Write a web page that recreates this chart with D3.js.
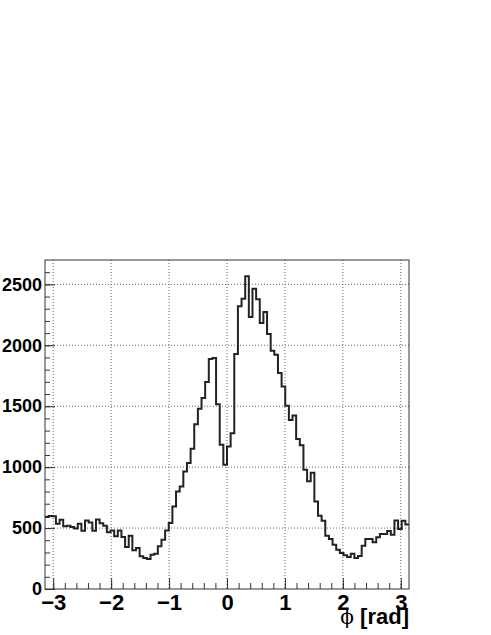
<!DOCTYPE html>
<html>
<head>
<meta charset="utf-8">
<script src="https://cdn.jsdelivr.net/npm/d3@7"></script>
<style>
  body { margin: 0; background: #fff; }
  svg { display: block; }
</style>
</head>
<body>
<div class="chart"></div>
<script>
var w = 491,
    h = 635;

// phi histogram, 100 bins from -pi to pi
var counts = [
  590, 600, 598, 535, 568, 514, 519, 508, 497, 535,
  478, 563, 546, 478, 570, 540, 520, 465, 481, 432,
  481, 426, 344, 437, 317, 336, 268, 254, 246, 281,
  290, 350, 404, 481, 541, 678, 801, 842, 964, 1035,
  1150, 1353, 1479, 1567, 1698, 1887, 1895, 1517, 1183, 1019,
  1170, 1279, 1928, 2320, 2382, 2566, 2232, 2464, 2377, 2183,
  2273, 2092, 1955, 1922, 1772, 1662, 1504, 1386, 1424, 1230,
  1180, 978, 885, 955, 719, 601, 560, 437, 410, 363,
  322, 295, 276, 262, 290, 254, 270, 355, 410, 410,
  383, 424, 451, 451, 475, 445, 563, 492, 560, 530
];
var xMajor = [-3, -2, -1, 0, 1, 2, 3];
var yMajor = [0, 500, 1000, 1500, 2000, 2500];
var yMax = 2700;

var fL = 45, fR = 409, fT = 260, fB = 589;

var x = d3.scaleLinear().domain([-Math.PI, Math.PI]).range([fL, fR]);
var y = d3.scaleLinear().domain([0, yMax]).range([fB, fT]);

var svg = d3.select(".chart").append("svg")
  .attr("width", w)
  .attr("height", h);

var binW = 2 * Math.PI / counts.length;

// grid
svg.append("g").selectAll("line")
  .data(xMajor)
  .enter().append("line")
  .attr("x1", function(d) { return x(d); })
  .attr("x2", function(d) { return x(d); })
  .attr("y1", fT)
  .attr("y2", fB)
  .style("stroke", "#666")
  .style("stroke-dasharray", "1,2");

svg.append("g").selectAll("line")
  .data(yMajor.slice(1))
  .enter().append("line")
  .attr("x1", fL)
  .attr("x2", fR)
  .attr("y1", function(d) { return y(d); })
  .attr("y2", function(d) { return y(d); })
  .style("stroke", "#666")
  .style("stroke-dasharray", "1,2");

// axes with inside ticks
var xMinor = d3.range(-3.2, 3.21, 0.2).filter(function(d) {
  return d >= -Math.PI && d <= Math.PI;
});
svg.append("g")
  .attr("transform", "translate(0," + fB + ")")
  .call(d3.axisBottom(x).tickValues(xMinor).tickSize(-6).tickFormat(""))
  .call(function(g) { g.select(".domain").remove(); });

svg.append("g")
  .attr("transform", "translate(0," + fB + ")")
  .call(d3.axisBottom(x).tickValues(xMajor).tickSize(-11).tickPadding(5)
    .tickFormat(function(d) { return d < 0 ? "\u2212" + Math.abs(d) : d; }))
  .call(function(g) {
    g.select(".domain").remove();
    g.selectAll("text")
      .attr("dy", "0.71em")
      .style("font-family", "Liberation Sans, Arial, sans-serif")
      .style("font-weight", "bold")
      .style("font-size", "22px")
      .style("fill", "#000");
  });

svg.append("g")
  .attr("transform", "translate(" + fL + ",0)")
  .call(d3.axisLeft(y).tickValues(d3.range(0, yMax, 100)).tickSize(-5).tickFormat(""))
  .call(function(g) { g.select(".domain").remove(); });

svg.append("g")
  .attr("transform", "translate(" + fL + ",0)")
  .call(d3.axisLeft(y).tickValues(yMajor).tickSize(-10).tickPadding(3)
    .tickFormat(d3.format("d")))
  .call(function(g) {
    g.select(".domain").remove();
    g.selectAll("text")
      .style("font-family", "Liberation Sans, Arial, sans-serif")
      .style("font-weight", "bold")
      .style("font-size", "18px")
      .style("fill", "#000");
  });

svg.selectAll(".tick line").style("stroke", "#333");

// histogram outline
var pts = [];
counts.forEach(function(c, i) {
  var x0 = -Math.PI + i * binW;
  pts.push([x(x0), y(c)]);
  pts.push([x(x0 + binW), y(c)]);
});
svg.append("path")
  .attr("d", d3.line()(pts))
  .style("fill", "none")
  .style("stroke", "#222")
  .style("stroke-width", 2);

// frame
svg.append("rect")
  .attr("x", fL)
  .attr("y", fT)
  .attr("width", fR - fL)
  .attr("height", fB - fT)
  .style("fill", "none")
  .style("stroke", "#333")
  .style("stroke-width", 1);

// axis title
var title = svg.append("text")
  .attr("x", fR)
  .attr("y", 624)
  .attr("text-anchor", "end")
  .style("font-family", "Liberation Sans, Arial, sans-serif")
  .style("font-weight", "bold")
  .style("font-size", "22px");
title.append("tspan")
  .style("font-family", "DejaVu Serif, Liberation Serif, serif")
  .style("font-weight", "normal")
  .style("font-size", "20px")
  .text("\u03d5");
title.append("tspan").text(" [rad]");
</script>
</body>
</html>
